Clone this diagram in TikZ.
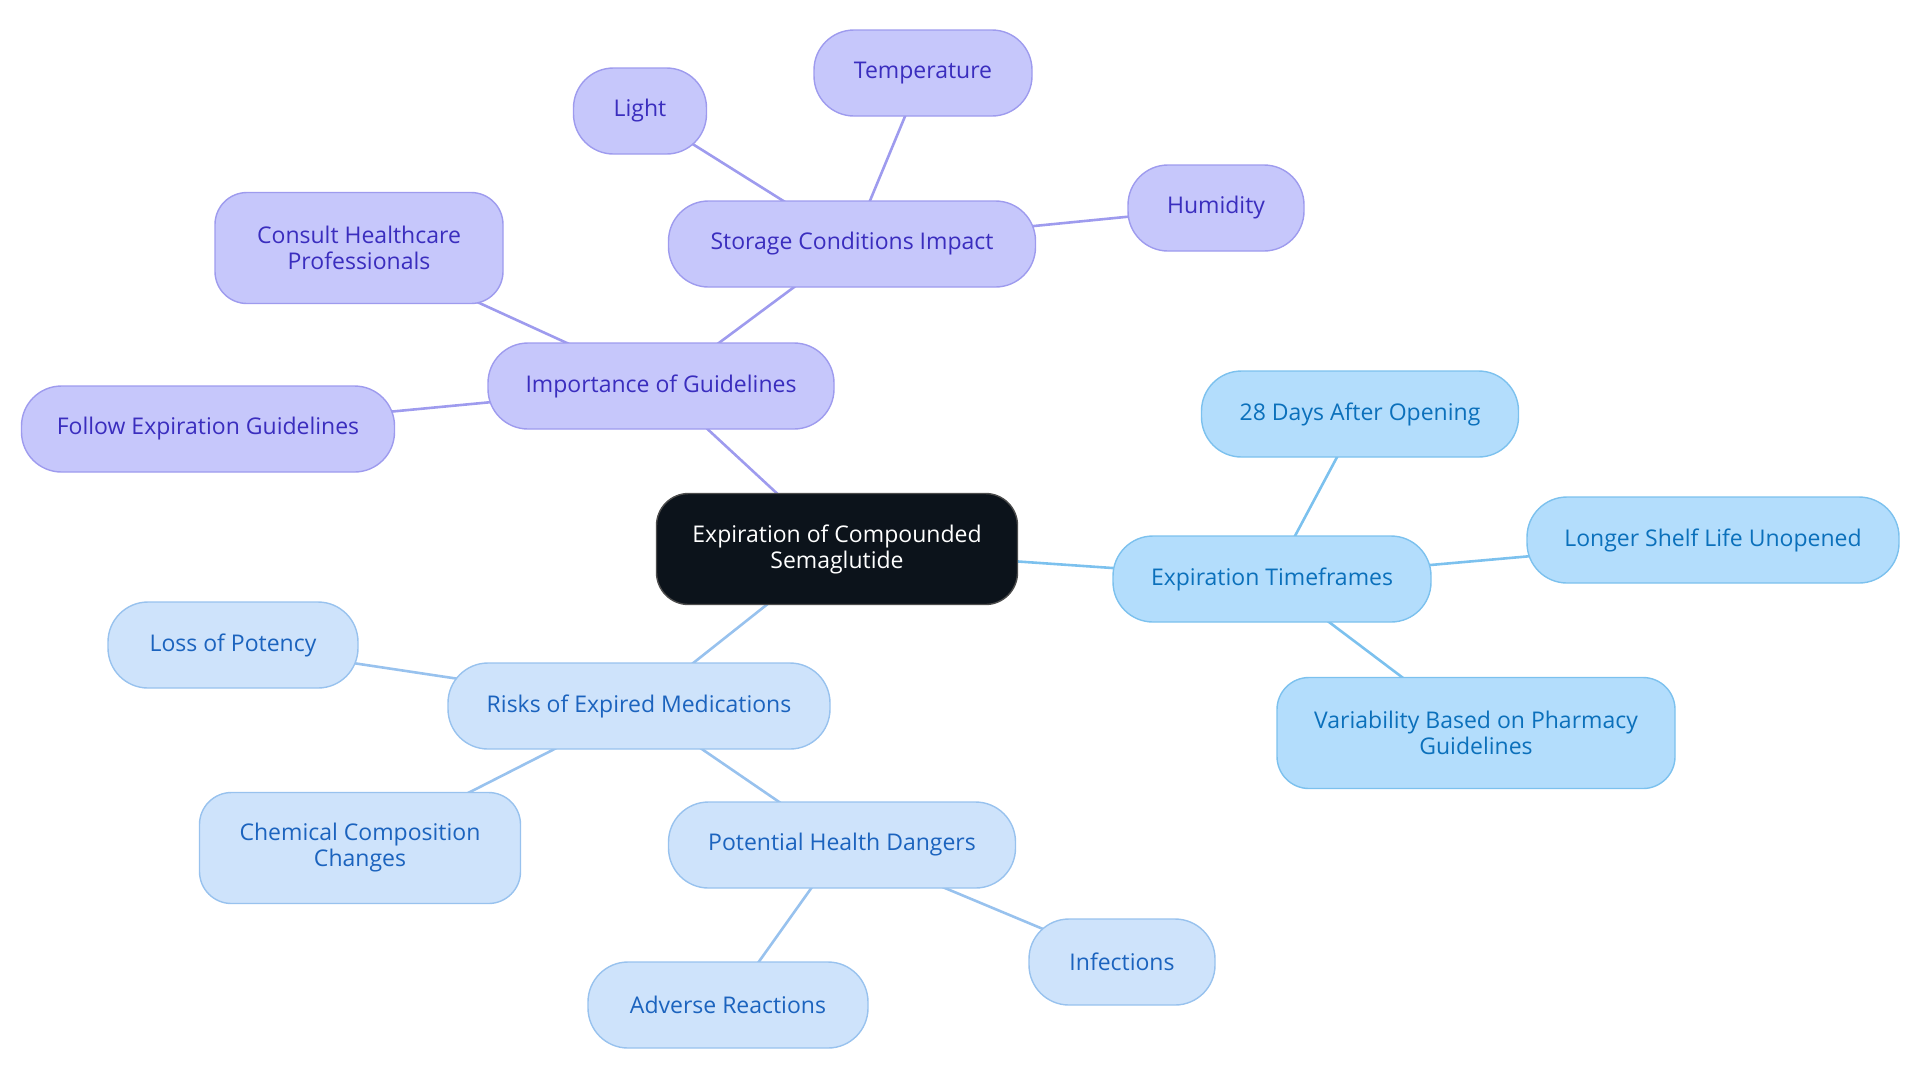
\documentclass[tikz,border=0pt]{standalone}
\usepackage{fontspec}
\setmainfont{Open Sans}
\usepackage{tikz}
\usetikzlibrary{backgrounds}
\definecolor{purfill}{HTML}{C6C7FB}
\definecolor{purline}{HTML}{9E9BEE}
\definecolor{purtext}{HTML}{3A2DBE}
\definecolor{blufill}{HTML}{CEE3FB}
\definecolor{bluline}{HTML}{98C2EE}
\definecolor{blutext}{HTML}{1B63BE}
\definecolor{skyfill}{HTML}{B3DDFC}
\definecolor{skyline}{HTML}{7CC1EE}
\definecolor{skytext}{HTML}{0B70BB}
\definecolor{coredark}{HTML}{0C131B}

\begin{document}
\begin{tikzpicture}[x=0.5pt,y=-0.5pt,
  box/.style={draw, line width=0.7pt, rounded corners=20pt, align=center,
    minimum height=43pt, inner sep=0pt,
    font=\fontsize{11.5}{13}\selectfont},
  tall/.style={rounded corners=16pt, minimum height=55.5pt},
  pur/.style={box, fill=purfill, draw=purline, text=purtext},
  blu/.style={box, fill=blufill, draw=bluline, text=blutext},
  sky/.style={box, fill=skyfill, draw=skyline, text=skytext},
  purlink/.style={draw=purline, line width=1.3pt},
  blulink/.style={draw=bluline, line width=1.3pt},
  skylink/.style={draw=skyline, line width=1.3pt}]
\useasboundingbox (0,0) rectangle (1920,1083);

\node [box, fill=coredark, draw=gray!60!black, text=white, tall, minimum width=180.5pt] (core) at (837,549) {Expiration of Compounded\\Semaglutide};

\node [pur, minimum width=173pt] (guide) at (661,386) {Importance of Guidelines};
\node [pur, minimum width=183.5pt] (store) at (852,244) {Storage Conditions Impact};
\node [pur, minimum width=66.5pt] (light) at (640,111) {Light};
\node [pur, minimum width=109pt] (temp) at (923,73) {Temperature};
\node [pur, minimum width=88pt] (humid) at (1216,208) {Humidity};
\node [pur, tall, minimum width=144pt] (consult) at (359,248) {Consult Healthcare\\Professionals};
\node [pur, minimum width=186.5pt] (follow) at (208,429) {Follow Expiration Guidelines};

\node [sky, minimum width=159pt] (time) at (1272,579) {Expiration Timeframes};
\node [sky, minimum width=158.5pt] (days) at (1360,414) {28 Days After Opening};
\node [sky, minimum width=186pt] (shelf) at (1713,540) {Longer Shelf Life Unopened};
\node [sky, tall, minimum width=199pt] (vary) at (1476,733) {Variability Based on Pharmacy\\Guidelines};

\node [blu, minimum width=191pt] (risk) at (639,706) {Risks of Expired Medications};
\node [blu, minimum width=125pt] (potency) at (233,645) {Loss of Potency};
\node [blu, tall, minimum width=160.5pt] (chem) at (360,848) {Chemical Composition\\Changes};
\node [blu, minimum width=173.5pt] (health) at (842,845) {Potential Health Dangers};
\node [blu, minimum width=140pt] (adverse) at (728,1005) {Adverse Reactions};
\node [blu, minimum width=93pt] (infect) at (1122,962) {Infections};

\begin{scope}[on background layer]
\draw [purlink] (core.center) -- (guide.center);
\draw [purlink] (guide.center) -- (store.center);
\draw [purlink] (store.center) -- (light.center);
\draw [purlink] (store.center) -- (temp.center);
\draw [purlink] (store.center) -- (humid.center);
\draw [purlink] (guide.center) -- (consult.center);
\draw [purlink] (guide.center) -- (follow.center);
\draw [skylink] (core.center) -- (time.center);
\draw [skylink] (time.center) -- (days.center);
\draw [skylink] (time.center) -- (shelf.center);
\draw [skylink] (time.center) -- (vary.center);
\draw [blulink] (core.center) -- (risk.center);
\draw [blulink] (risk.center) -- (potency.center);
\draw [blulink] (risk.center) -- (chem.center);
\draw [blulink] (risk.center) -- (health.center);
\draw [blulink] (health.center) -- (adverse.center);
\draw [blulink] (health.center) -- (infect.center);
\end{scope}
\end{tikzpicture}
\end{document}
